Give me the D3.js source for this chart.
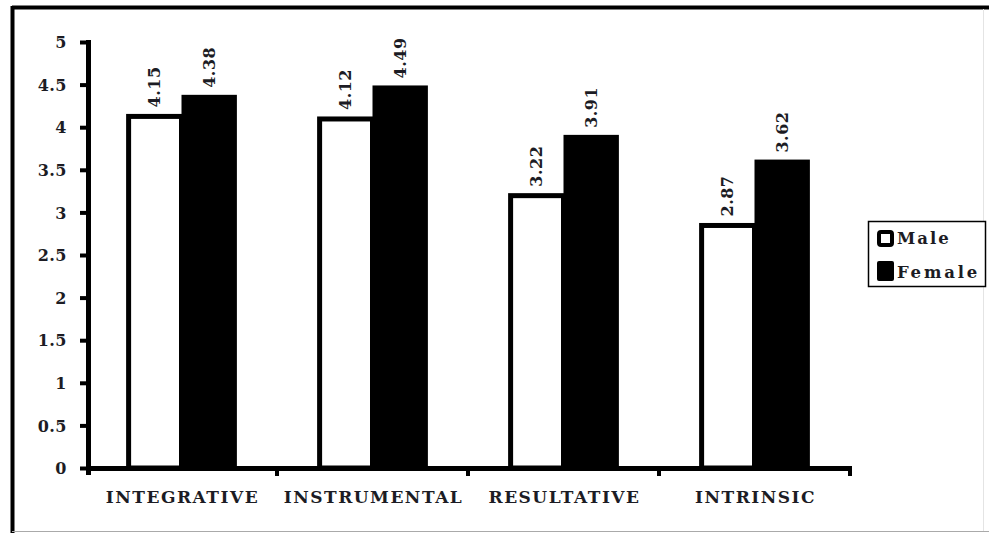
<!DOCTYPE html>
<head>
<meta charset="utf-8">
<style>
  body { margin: 0; background: #fff; }
  text { font-family: "DejaVu Serif", serif; font-weight: bold; fill: #1c1c24; }
</style>
</head>
<body>
  <svg width="989" height="533"></svg>

  <script src="https://d3js.org/d3.v7.min.js"></script>
  <script>
  const categories = ['INTEGRATIVE', 'INSTRUMENTAL', 'RESULTATIVE', 'INTRINSIC'];
  const series = ['Male', 'Female'];
  const male = [4.15, 4.12, 3.22, 2.87];
  const female = [4.38, 4.49, 3.91, 3.62];
  const yTicks = [0, 0.5, 1, 1.5, 2, 2.5, 3, 3.5, 4, 4.5, 5];

  const values = [male, female];
  const svg = d3.select('svg');

  // outer frame: heavy top/left, faint right/bottom
  svg.append('line').attr('x1', 12).attr('x2', 989).attr('y1', 7.5).attr('y2', 7.5)
    .attr('stroke', '#000').attr('stroke-width', 4);
  svg.append('line').attr('x1', 12.5).attr('x2', 12.5).attr('y1', 6).attr('y2', 533)
    .attr('stroke', '#000').attr('stroke-width', 4);
  svg.append('line').attr('x1', 12).attr('x2', 989).attr('y1', 531.5).attr('y2', 531.5)
    .attr('stroke', '#aaa').attr('stroke-width', 1);
  svg.append('line').attr('x1', 983.5).attr('x2', 983.5).attr('y1', 9).attr('y2', 531)
    .attr('stroke', '#e4e4e4').attr('stroke-width', 1);

  const x0 = d3.scaleBand()
    .domain(categories)
    .range([86, 850])
    .paddingInner(0.42)
    .paddingOuter(0.21);
  const x1 = d3.scaleBand()
    .domain(series)
    .range([0, x0.bandwidth()]);
  const y = d3.scaleLinear()
    .domain([0, 5])
    .range([468, 42]);

  // bars
  const groups = svg.selectAll('g.cat')
    .data(categories)
    .enter()
    .append('g')
    .attr('class', 'cat')
    .attr('transform', d => `translate(${x0(d)},0)`);

  groups.each(function (c, i) {
    const g = d3.select(this);
    series.forEach((s, j) => {
      const v = values[j][i];
      if (j === 0) {
        g.append('rect')
          .attr('x', x1(s) + 2.5)
          .attr('y', y(v) + 2)
          .attr('width', x1.bandwidth() - 2.5)
          .attr('height', y(0) - y(v) - 2)
          .attr('fill', '#fff')
          .attr('stroke', '#000')
          .attr('stroke-width', 5);
      } else {
        g.append('rect')
          .attr('x', x1(s))
          .attr('y', y(v))
          .attr('width', x1.bandwidth())
          .attr('height', y(0) - y(v))
          .attr('fill', '#000');
      }
      const cx = x1(s) + x1.bandwidth() / 2 + 6;
      g.append('text')
        .attr('transform', `translate(${cx},${y(v) - 7}) rotate(-90)`)
        .attr('text-anchor', 'start')
        .attr('font-size', 16)
        .attr('letter-spacing', 0.5)
        .text(v.toFixed(2));
    });
  });

  // y axis
  const yAxis = svg.append('g')
    .attr('transform', 'translate(88,0)')
    .call(d3.axisLeft(y).tickValues(yTicks).tickSize(8).tickSizeOuter(0)
      .tickFormat(d => String(d)));
  yAxis.select('.domain').remove();
  yAxis.selectAll('line').attr('stroke', '#000').attr('stroke-width', 4);
  yAxis.selectAll('text')
    .attr('x', -21)
    .attr('dy', '0.35em')
    .attr('font-size', 16)
    .attr('letter-spacing', 0.5)
    .style('font-family', '"DejaVu Serif", serif');
  svg.append('line')
    .attr('x1', 88.5).attr('x2', 88.5)
    .attr('y1', y(5) - 2).attr('y2', y(0) + 7)
    .attr('stroke', '#000').attr('stroke-width', 5);

  // x axis
  svg.append('line')
    .attr('x1', 86).attr('x2', 852)
    .attr('y1', y(0) + 0.5).attr('y2', y(0) + 0.5)
    .attr('stroke', '#000').attr('stroke-width', 5);
  const step = x0.step();
  const bounds = d3.range(categories.length + 1).map(i => 86 + i * step);
  svg.selectAll('line.xtick')
    .data(bounds.slice(1))
    .enter()
    .append('line')
    .attr('class', 'xtick')
    .attr('x1', d => d).attr('x2', d => d)
    .attr('y1', y(0)).attr('y2', y(0) + 8)
    .attr('stroke', '#000').attr('stroke-width', 4);

  svg.selectAll('text.cat-label')
    .data(categories)
    .enter()
    .append('text')
    .attr('class', 'cat-label')
    .attr('x', d => x0(d) + x0.bandwidth() / 2 + 1)
    .attr('y', 503)
    .attr('text-anchor', 'middle')
    .attr('font-size', 17)
    .attr('letter-spacing', 1.5)
    .text(d => d);

  // legend
  const legend = svg.append('g');
  legend.append('rect')
    .attr('x', 868.5).attr('y', 221.5).attr('width', 117).attr('height', 65)
    .attr('fill', '#fff').attr('stroke', '#000').attr('stroke-width', 1.5);
  series.forEach((s, j) => {
    const base = 244 + j * 34;
    if (j === 0) {
      legend.append('rect')
        .attr('x', 879).attr('y', base - 12)
        .attr('width', 13).attr('height', 13).attr('rx', 2)
        .attr('fill', '#fff').attr('stroke', '#000').attr('stroke-width', 4);
    } else {
      legend.append('rect')
        .attr('x', 877).attr('y', base - 17)
        .attr('width', 17).attr('height', 20).attr('rx', 2)
        .attr('fill', '#000');
    }
    legend.append('text')
      .attr('x', 897).attr('y', base)
      .attr('font-size', 16.5)
      .attr('letter-spacing', j === 0 ? 2 : 2.8)
      .text(s);
  });
  </script>
</body>
</html>
